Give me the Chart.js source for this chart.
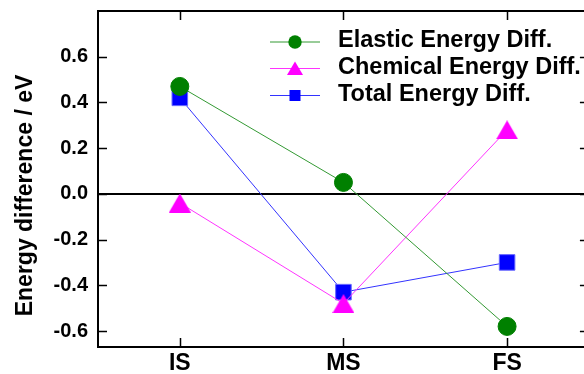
<!DOCTYPE html>
<html>
<head>
<meta charset="utf-8">
<style>
  html, body { margin: 0; padding: 0; background: #fff; overflow: hidden; }
  #wrap { width: 584px; height: 374px; overflow: hidden; position: relative; }
  canvas { display: block; }
</style>
<script src="https://cdn.jsdelivr.net/npm/chart.js@4.4.1/dist/chart.umd.min.js"></script>
</head>
<body>
<div id="wrap"><canvas id="chart" width="584" height="374"></canvas></div>
<script>
// States along the reaction path
const states = ['IS', 'MS', 'FS'];

// Energy differences (eV)
const elasticDiff  = [0.47, 0.05, -0.58];
const chemicalDiff = [-0.04, -0.48, 0.28];
const totalDiff    = [0.42, -0.43, -0.30];

// Y-axis tick values
const yTicks = [-0.6, -0.4, -0.2, 0.0, 0.2, 0.4, 0.6];

// x extent of the framed plot box (the right side lies just past the canvas edge)
const X_FRAME = [-0.5, 2.5];

const FONT = '"Liberation Sans", Arial, Helvetica, sans-serif';

// Triangle marker centred on its bounding box
function triangleImage(w, h, color) {
  const c = document.createElement('canvas');
  c.width = w; c.height = h;
  const g = c.getContext('2d');
  g.fillStyle = color;
  g.beginPath();
  g.moveTo(w / 2, 0);
  g.lineTo(w, h);
  g.lineTo(0, h);
  g.closePath();
  g.fill();
  return c;
}
const triMarker = triangleImage(22, 19, '#ff00ff');

const toXY = arr => arr.map((v, i) => ({ x: i, y: v }));

// Frame with inward ticks, y title and legend
const decorations = {
  id: 'decorations',
  afterDatasetsDraw(chart) {
    const { ctx, chartArea: a, scales: { x, y } } = chart;
    const left = x.getPixelForValue(X_FRAME[0]);
    const right = x.getPixelForValue(X_FRAME[1]);
    ctx.save();
    ctx.strokeStyle = '#000';
    ctx.lineWidth = 2;
    ctx.strokeRect(left, a.top, right - left, a.bottom - a.top);
    ctx.lineWidth = 1.5;
    const tl = 9;
    ctx.beginPath();
    yTicks.forEach(v => {
      const py = Math.round(y.getPixelForValue(v)) + 0.5;
      ctx.moveTo(left, py); ctx.lineTo(left + tl, py);
      ctx.moveTo(right, py); ctx.lineTo(right - tl, py);
    });
    states.forEach((s, i) => {
      const px = Math.round(x.getPixelForValue(i)) + 0.5;
      ctx.moveTo(px, a.top); ctx.lineTo(px, a.top + tl);
      ctx.moveTo(px, a.bottom); ctx.lineTo(px, a.bottom - tl);
    });
    ctx.stroke();

    // y-axis title
    ctx.save();
    ctx.translate(32, 195.5);
    ctx.rotate(-Math.PI / 2);
    ctx.fillStyle = '#000';
    ctx.font = 'bold 23px ' + FONT;
    ctx.textAlign = 'center';
    ctx.textBaseline = 'alphabetic';
    ctx.fillText('Energy difference / eV', 0, 0);
    ctx.restore();

    // legend
    const rows = [42, 68.5, 95.5];
    chart.data.datasets.forEach((ds, i) => {
      const cy = rows[i];
      ctx.strokeStyle = ds.borderColor;
      ctx.lineWidth = 1;
      ctx.beginPath();
      ctx.moveTo(270, cy); ctx.lineTo(320, cy);
      ctx.stroke();
      ctx.fillStyle = ds.pointBackgroundColor;
      const mx = 295;
      ctx.beginPath();
      if (ds.legendMarker === 'circle') {
        ctx.arc(mx, cy, 6.7, 0, Math.PI * 2);
      } else if (ds.legendMarker === 'triangle') {
        ctx.moveTo(mx, cy - 7); ctx.lineTo(mx + 8, cy + 6.5); ctx.lineTo(mx - 8, cy + 6.5);
        ctx.closePath();
      } else {
        ctx.rect(mx - 5.5, cy - 5.5, 11, 11);
      }
      ctx.fill();
      ctx.fillStyle = '#000';
      ctx.font = 'bold 23.5px ' + FONT;
      ctx.textAlign = 'left';
      ctx.textBaseline = 'middle';
      ctx.fillText(ds.label, 338, cy - 1);
    });
    ctx.restore();
  }
};

new Chart(document.getElementById('chart'), {
  type: 'line',
  data: {
    datasets: [
      {
        label: 'Elastic Energy Diff.',
        data: toXY(elasticDiff),
        borderColor: '#339933',
        borderWidth: 1,
        pointStyle: 'circle',
        pointRadius: 9,
        pointBackgroundColor: '#008000',
        pointBorderColor: '#008000',
        pointBorderWidth: 1,
        legendMarker: 'circle'
      },
      {
        label: 'Chemical Energy Diff.',
        data: toXY(chemicalDiff),
        borderColor: '#ff33ff',
        borderWidth: 1,
        pointStyle: triMarker,
        pointRadius: 12,
        pointBackgroundColor: '#ff00ff',
        pointBorderColor: '#ff00ff',
        legendMarker: 'triangle'
      },
      {
        label: 'Total Energy Diff.',
        data: toXY(totalDiff),
        borderColor: '#3333ff',
        borderWidth: 1,
        pointStyle: 'rect',
        pointRadius: 11,
        pointBackgroundColor: '#0000ff',
        pointBorderColor: '#6666ff',
        pointBorderWidth: 1,
        legendMarker: 'rect'
      }
    ]
  },
  options: {
    responsive: false,
    devicePixelRatio: 1,
    animation: false,
    layout: { autoPadding: false, padding: { top: 11, right: 0, left: 0, bottom: 0 } },
    plugins: { legend: { display: false }, tooltip: { enabled: false } },
    elements: { line: { tension: 0 } },
    scales: {
      x: {
        type: 'linear',
        min: X_FRAME[0],
        max: 2.47,
        afterBuildTicks(scale) { scale.ticks = states.map((s, i) => ({ value: i })); },
        afterFit(scale) {
          scale.height = 27;
          scale.paddingLeft = 0; scale.paddingRight = 0;
          scale.paddingTop = 0; scale.paddingBottom = 0;
        },
        ticks: {
          callback: v => states[v],
          color: '#000',
          font: { family: FONT, size: 23, weight: 'bold' },
          padding: 3,
          maxRotation: 0
        },
        grid: { display: false, drawTicks: false },
        border: { display: false }
      },
      y: {
        min: -0.67,
        max: 0.80,
        afterBuildTicks(scale) { scale.ticks = yTicks.map(v => ({ value: v })); },
        afterFit(scale) {
          scale.width = 98;
          scale.paddingLeft = 0; scale.paddingRight = 0;
          scale.paddingTop = 0; scale.paddingBottom = 0;
        },
        ticks: {
          callback: v => v.toFixed(1),
          color: '#000',
          font: { family: FONT, size: 20, weight: 'bold' },
          padding: 10
        },
        grid: {
          drawTicks: false,
          color: ctx => (ctx.tick && Math.abs(ctx.tick.value) < 1e-9) ? '#000' : 'rgba(0,0,0,0)',
          lineWidth: 2
        },
        border: { display: false }
      }
    }
  },
  plugins: [decorations]
});
</script>
</body>
</html>
